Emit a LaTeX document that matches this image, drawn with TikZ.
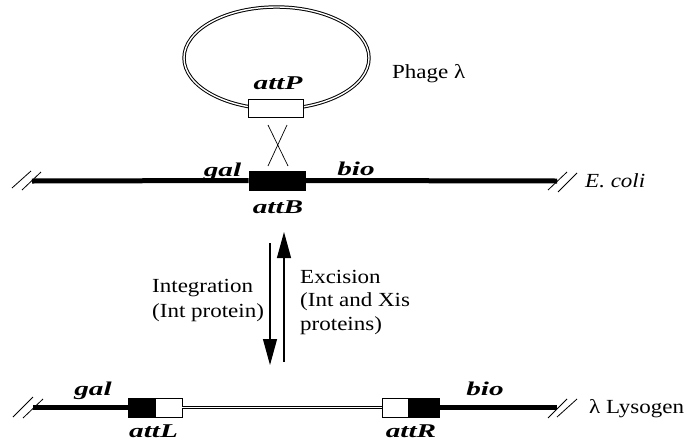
\documentclass[tikz,border=0pt]{standalone}
\usepackage{fontspec}
\setmainfont{Liberation Serif}[FakeStretch=1.15]
\newfontfamily\lblfont{Liberation Serif}[FakeStretch=1.5]
\usetikzlibrary{arrows.meta,shapes.geometric}
\tikzset{
  txt/.style={font=\fontsize{20}{23.5}\selectfont, inner sep=0pt},
  lbl/.style={font=\lblfont\bfseries\itshape\fontsize{19.5}{22}\selectfont, inner sep=0pt},
  dna/.style={line width=5pt},
  lam/.style={draw=black, line width=1pt, double=white, double distance=1.4pt},
  slash/.style={line width=0.8pt},
  att/.style={draw, line width=0.8pt, minimum height=19pt, inner sep=0pt},
  arr/.style={line width=1.1pt, -{Triangle[length=26pt,width=14pt]}},
  cross/.style={line width=0.7pt}
}
\begin{document}
\begin{tikzpicture}[x=1pt,y=-1pt]
\useasboundingbox (0,0) rectangle (692,442);
% phage lambda
\node[lam, ellipse, minimum width=185pt, minimum height=102pt, inner sep=0pt] (phage) at (276.5,58) {};
\node[att, fill=white, minimum width=55pt, minimum height=18pt] (attP) at (275.5,108) {};
\node[lbl, anchor=base] (attPl) at (278,89) {attP};
\node[txt, anchor=base west] (phagetxt) at (392,78) {Phage λ};
% crossover
\coordinate (xa) at (268,125);
\coordinate (xb) at (287,125);
\coordinate (xc) at (268,166);
\coordinate (xd) at (288,166);
\draw[cross] (xa) -- (xd);
\draw[cross] (xb) -- (xc);
% E. coli chromosome
\coordinate (eL) at (32,181);
\coordinate (eR) at (557,181);
\node[att, fill=black, minimum width=56pt] (attB) at (277,180.5) {};
\draw[dna] (eL) -- (attB.west);
\draw[dna] (attB.east) -- (eR);
\coordinate (s1a) at (12,188); \coordinate (s1b) at (31,171);
\coordinate (s2a) at (22,190); \coordinate (s2b) at (41,172);
\draw[slash] (s1a) -- (s1b);
\draw[slash] (s2a) -- (s2b);
\coordinate (s3a) at (548,190); \coordinate (s3b) at (567,172);
\coordinate (s4a) at (558,192); \coordinate (s4b) at (577,173);
\draw[slash] (s3a) -- (s3b);
\draw[slash] (s4a) -- (s4b);
\node[lbl, anchor=base] (gal1) at (222.5,176) {gal};
\node[lbl, anchor=base] (bio1) at (356,175) {bio};
\node[lbl, anchor=base] (attBl) at (278,213) {attB};
\node[txt, anchor=base west] (ecoli) at (585,187) {\itshape E. coli};
% arrows
\coordinate (d1) at (270,243);
\coordinate (d2) at (270,365);
\coordinate (u1) at (284,362);
\coordinate (u2) at (284,232);
\draw[arr] (d1) -- (d2);
\draw[arr] (u1) -- (u2);
\node[txt, anchor=base west] (int1) at (152,292) {Integration};
\node[txt, anchor=base west] (int2) at (152,317) {(Int protein)};
\node[txt, anchor=base west] (exc1) at (300,283) {Excision};
\node[txt, anchor=base west] (exc2) at (300,306) {(Int and Xis};
\node[txt, anchor=base west] (exc3) at (300,330) {proteins)};
% lysogen
\coordinate (lL) at (33,407.5);
\coordinate (lR) at (557,407.5);
\node[att, fill=black, minimum width=27pt] (attLa) at (141.5,407.5) {};
\node[att, fill=white, minimum width=27pt] (attLb) at (168.5,407.5) {};
\node[att, fill=white, minimum width=26pt] (attRa) at (395,407.5) {};
\node[att, fill=black, minimum width=31pt] (attRb) at (423.5,407.5) {};
\draw[dna] (lL) -- (attLa.west);
\draw[dna] (attRb.east) -- (lR);
\draw[lam] (attLb.east) -- (attRa.west);
\coordinate (s5a) at (13,417); \coordinate (s5b) at (33,397);
\coordinate (s6a) at (23,418); \coordinate (s6b) at (43,399);
\draw[slash] (s5a) -- (s5b);
\draw[slash] (s6a) -- (s6b);
\coordinate (s7a) at (548,418); \coordinate (s7b) at (567,399);
\coordinate (s8a) at (557,417); \coordinate (s8b) at (577,399);
\draw[slash] (s7a) -- (s7b);
\draw[slash] (s8a) -- (s8b);
\node[lbl, anchor=base] (gal2) at (93,395) {gal};
\node[lbl, anchor=base] (bio2) at (485,395) {bio};
\node[lbl, anchor=base] (attLl) at (153.5,437) {attL};
\node[lbl, anchor=base] (attRl) at (411,437) {attR};
\node[txt, anchor=base west] (lys) at (589,413) {λ Lysogen};
\end{tikzpicture}
\end{document}
